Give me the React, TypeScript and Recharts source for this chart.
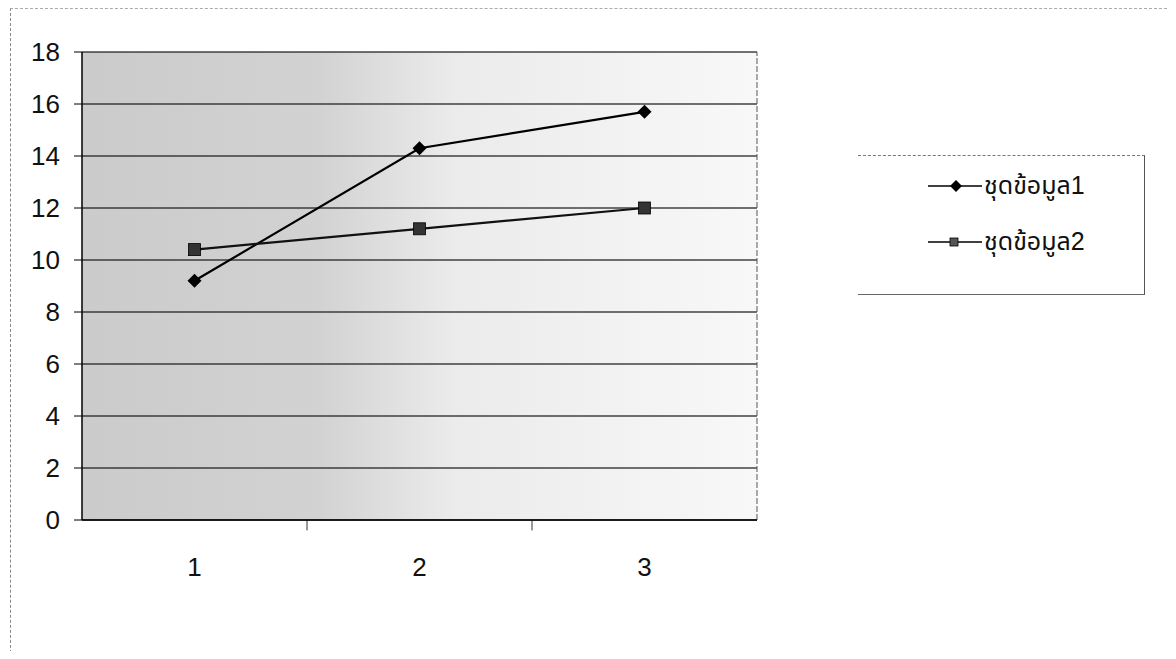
import React from 'react';
import { LineChart, Line, XAxis, YAxis, CartesianGrid, ReferenceLine } from 'recharts';

const categories = [1, 2, 3];
const series1 = [9.2, 14.3, 15.7];
const series2 = [10.4, 11.2, 12.0];
const yTicks = [0, 2, 4, 6, 8, 10, 12, 14, 16, 18];
const bandEdges = [1.5, 2.5];
const seriesNames = ['ชุดข้อมูล1', 'ชุดข้อมูล2'];

const data = categories.map((c, i) => ({ x: c, s1: series1[i], s2: series2[i] }));

const FONT = '"Liberation Sans", Arial, "Noto Sans Thai", "Noto Sans", sans-serif';

const Diamond = (props: any) => {
  const { cx, cy, size = 7, fill = '#000' } = props;
  if (cx == null || cy == null) return null;
  return (
    <polygon
      points={`${cx},${cy - size} ${cx + size},${cy} ${cx},${cy + size} ${cx - size},${cy}`}
      fill={fill}
    />
  );
};

const Square = (props: any) => {
  const { cx, cy, size = 5, fill = '#2a2a2a' } = props;
  if (cx == null || cy == null) return null;
  return <rect x={cx - size} y={cy - size} width={size * 2} height={size * 2} fill={fill} stroke="#000" strokeWidth={0.8} />;
};

const XTick = (props: any) => {
  const { x, y, payload } = props;
  return (
    <text x={x} y={y} dy={26} textAnchor="middle" fontSize={26} fontFamily={FONT} fill="#111">
      {payload.value}
    </text>
  );
};

const YTick = (props: any) => {
  const { x, y, payload } = props;
  return (
    <text x={x} y={y} dy={9} textAnchor="end" fontSize={26} fontFamily={FONT} fill="#111">
      {payload.value}
    </text>
  );
};

// legend drawn beside the chart so it does not eat plot space
const LegendBox = () => (
  <div
    style={{
      position: 'absolute',
      left: 850,
      top: 147,
      width: 287,
      height: 140,
      borderTop: '1px dashed #777',
      borderRight: '1px solid #555',
      borderBottom: '1px solid #666',
      boxSizing: 'border-box',
      fontFamily: FONT,
    }}
  >
    {seriesNames.map((name, i) => (
      <div key={name} style={{ position: 'absolute', left: 68, top: 11 + i * 56, display: 'flex', alignItems: 'center' }}>
        <svg width={58} height={28}>
          <line x1={2} y1={14} x2={56} y2={14} stroke="#000" strokeWidth={1.6} />
          {i === 0 ? <Diamond cx={30} cy={14} size={6} /> : <Square cx={28} cy={14} size={4} fill="#555" />}
        </svg>
        <span style={{ fontSize: 25, color: '#111' }}>{name}</span>
      </div>
    ))}
  </div>
);

export default function App() {
  return (
    <div style={{ position: 'relative', width: 1160, height: 643 }}>
      <div
        style={{
          position: 'absolute',
          left: 2,
          top: 0,
          width: 1162,
          height: 660,
          borderLeft: '1px dashed #888',
          borderTop: '1px dashed #aaa',
          borderRight: '1px solid #777',
          boxSizing: 'border-box',
        }}
      />
      <LineChart
        width={1160}
        height={640}
        data={data}
        margin={{ top: 44, right: 411, bottom: 48, left: 0 }}
      >
        <defs>
          <linearGradient id="plotBg" x1="0" y1="0" x2="1" y2="0">
            <stop offset="0%" stopColor="#cbcbcb" />
            <stop offset="35%" stopColor="#d2d2d2" />
            <stop offset="55%" stopColor="#ebebeb" />
            <stop offset="100%" stopColor="#f8f8f8" />
          </linearGradient>
        </defs>
        <CartesianGrid vertical={false} stroke="#222" strokeWidth={1.4} strokeOpacity={0.85} fill="url(#plotBg)" />
        <XAxis
          dataKey="x"
          type="number"
          domain={[0.5, 3.5]}
          ticks={categories}
          tickSize={0}
          tickMargin={30}
          height={80}
          axisLine={{ stroke: '#000', strokeWidth: 1.5 }}
          tick={<XTick />}
        />
        <YAxis
          type="number"
          domain={[0, 18]}
          ticks={yTicks}
          width={74}
          tickSize={8}
          tickMargin={14}
          interval={0}
          axisLine={{ stroke: '#000', strokeWidth: 1.5 }}
          tickLine={{ stroke: '#000' }}
          tick={<YTick />}
        />
        <ReferenceLine x={3.5} stroke="#555" strokeDasharray="6 2" />
        {bandEdges.map((e) => (
          <ReferenceLine
            key={e}
            segment={[{ x: e, y: 0 }, { x: e, y: -0.4 }]}
            ifOverflow="visible"
            stroke="#333"
          />
        ))}
        <Line
          type="linear"
          dataKey="s1"
          name={seriesNames[0]}
          stroke="#000"
          strokeWidth={2.2}
          dot={(p: any) => <Diamond key={`a${p.index}`} cx={p.cx} cy={p.cy} size={7} />}
          activeDot={false}
          isAnimationActive={false}
        />
        <Line
          type="linear"
          dataKey="s2"
          name={seriesNames[1]}
          stroke="#111"
          strokeWidth={2.2}
          dot={(p: any) => <Square key={`b${p.index}`} cx={p.cx} cy={p.cy} size={6} fill="#333" />}
          activeDot={false}
          isAnimationActive={false}
        />
      </LineChart>
      <LegendBox />
    </div>
  );
}
